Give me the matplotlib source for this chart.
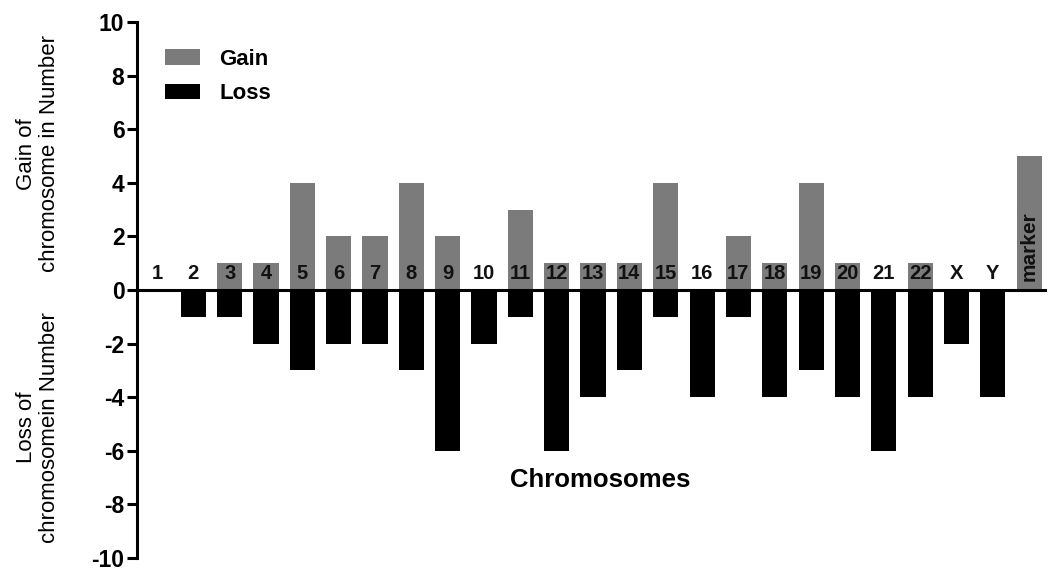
import matplotlib
matplotlib.use("Agg")
import matplotlib.pyplot as plt
from matplotlib.patches import Patch

categories = ["1", "2", "3", "4", "5", "6", "7", "8", "9", "10", "11", "12", "13",
              "14", "15", "16", "17", "18", "19", "20", "21", "22", "X", "Y", "marker"]
gain = [0, 0, 1, 1, 4, 2, 2, 4, 2, 0, 3, 1, 1, 1, 4, 0, 2, 1, 4, 1, 0, 1, 0, 0, 5]
loss = [0, -1, -1, -2, -3, -2, -2, -3, -6, -2, -1, -6, -4, -3, -1, -4, -1, -4, -3, -4,
        -6, -4, -2, -4, 0]
yticks = [-10, -8, -6, -4, -2, 0, 2, 4, 6, 8, 10]

plt.rcParams['font.family'] = ['Liberation Sans', 'DejaVu Sans']

fig = plt.figure(figsize=(10.49, 5.70), dpi=100)
ax = fig.add_axes([0.1306, 0.021, 0.866, 0.9404])

x = list(range(len(categories)))
gray = '#7b7b7b'
ax.bar(x, gain, width=0.69, color=gray, label='Gain')
ax.bar(x, loss, width=0.69, color='black', label='Loss')

for i, c in enumerate(categories):
    if c == 'marker':
        ax.text(i, 0.35, c, rotation=90, ha='center', va='bottom',
                fontsize=15, fontweight='bold', color='#111111')
    else:
        ax.text(i, 0.6, c, ha='center', va='center', fontsize=14.5,
                fontweight='bold', color='#111111')

ax.set_xlim(-0.55, 24.45)
ax.set_ylim(-10, 10)
ax.set_yticks(yticks)
ax.set_yticklabels([str(t) for t in yticks], fontsize=16.5, fontweight='bold')
ax.set_xticks([])

for s in ['top', 'right']:
    ax.spines[s].set_visible(False)
ax.spines['bottom'].set_position(('data', 0))
ax.spines['left'].set_linewidth(2.2)
ax.spines['bottom'].set_linewidth(2.2)
ax.tick_params(axis='y', direction='out', length=7, width=2.2, pad=2)

handles = [Patch(facecolor=gray, edgecolor='none'), Patch(facecolor='black', edgecolor='none')]
ax.legend(handles, ['Gain', 'Loss'], loc='upper left', bbox_to_anchor=(0.009, 0.987),
          frameon=False, handlelength=1.55, handleheight=0.7, handletextpad=0.9,
          labelspacing=0.6, prop={'weight': 'bold', 'size': 16})

fig.text(0.036, 0.73, 'Gain of\nchromosome in Number', rotation=90, ha='center',
         va='center', fontsize=16, linespacing=1.15, fontweight='medium')
fig.text(0.036, 0.25, 'Loss of\nchromosomein Number', rotation=90, ha='center',
         va='center', fontsize=16, linespacing=1.15, fontweight='medium')
fig.text(0.572, 0.158, 'Chromosomes', ha='center', va='center', fontsize=18.5,
         fontweight='bold')

fig.savefig('out.png', dpi=100)
